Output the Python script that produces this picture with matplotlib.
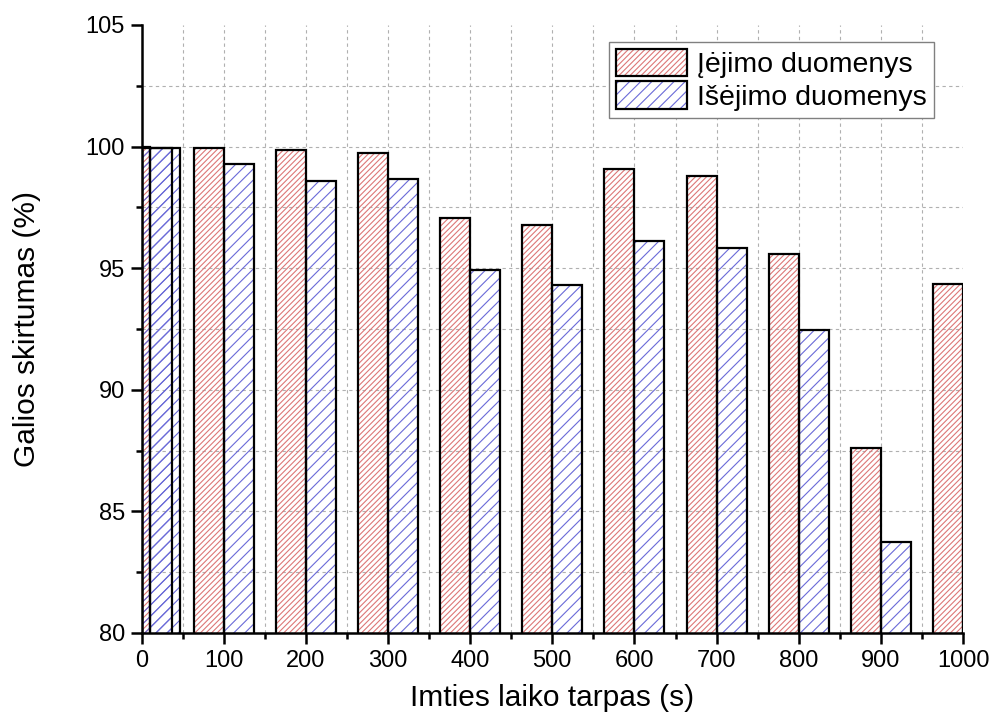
import matplotlib.pyplot as plt
from matplotlib.patches import Patch
from matplotlib.legend_handler import HandlerTuple
from matplotlib.ticker import MultipleLocator

plt.rcParams['font.family'] = ['Liberation Sans', 'DejaVu Sans']
plt.rcParams['hatch.linewidth'] = 0.8

# sample interval (s) and power difference (%)
interval = [1, 10, 100, 200, 300, 400, 500, 600, 700, 800, 900, 1000]
input_vals = [99.98, 99.98, 99.95, 99.84, 99.72, 97.06, 96.78, 99.08, 98.78, 95.59, 87.61, 94.37]
output_vals = [99.93, 99.93, 99.27, 98.60, 98.67, 94.91, 94.29, 96.13, 95.82, 92.47, 83.75, 92.0]

red = '#dd7777'
blue = '#6a6ad8'
w = 36.5

fig = plt.figure(figsize=(9.91, 7.24), dpi=100)
ax = fig.add_axes([0.1428, 0.1257, 0.829, 0.8398])

ax.set_xlim(0, 1000)
ax.set_ylim(80, 105)
ax.xaxis.set_major_locator(MultipleLocator(100))
ax.xaxis.set_minor_locator(MultipleLocator(50))
ax.yaxis.set_major_locator(MultipleLocator(5))
ax.yaxis.set_minor_locator(MultipleLocator(2.5))

# dashed grid on major + minor ticks, but not on the outer edges
grid_kw = dict(color='#b0b0b0', linestyle=(0, (3, 3)), linewidth=0.8, zorder=0)
xg = sorted(set(list(ax.get_xticks()) + list(ax.get_xticks(minor=True))))
yg = sorted(set(list(ax.get_yticks()) + list(ax.get_yticks(minor=True))))
for v in xg:
    if 0 < v < 1000:
        ax.axvline(v, **grid_kw)
for v in yg:
    if 80 < v < 105:
        ax.axhline(v, **grid_kw)

# hatch layer, then black outline on top
ax.bar(interval, input_vals, width=-w, align='edge', facecolor='none',
       edgecolor=red, hatch='//////', linewidth=0)
ax.bar(interval, output_vals, width=w, align='edge', facecolor='none',
       edgecolor=blue, hatch='///', linewidth=0)
ax.bar(interval, input_vals, width=-w, align='edge', fill=False, edgecolor='black', linewidth=1.6)
ax.bar(interval, output_vals, width=w, align='edge', fill=False, edgecolor='black', linewidth=1.6)

for s in ['top', 'right']:
    ax.spines[s].set_visible(False)
for s in ['left', 'bottom']:
    ax.spines[s].set_linewidth(1.8)

ax.tick_params(which='major', direction='out', length=8, width=1.8, labelsize=17, pad=4)
ax.tick_params(which='minor', direction='out', length=4.5, width=1.8)

ax.set_xlabel('Imties laiko tarpas (s)', fontsize=21.5, labelpad=9)
ax.set_ylabel('Galios skirtumas (%)', fontsize=21.5, labelpad=32)

h_in = (Patch(facecolor='none', edgecolor=red, hatch='//////', linewidth=0),
        Patch(fill=False, edgecolor='black', linewidth=1.6))
h_out = (Patch(facecolor='none', edgecolor=blue, hatch='///', linewidth=0),
         Patch(fill=False, edgecolor='black', linewidth=1.6))
leg = ax.legend([h_in, h_out], ['Įėjimo duomenys', 'Išėjimo duomenys'],
                handler_map={tuple: HandlerTuple(ndivide=1, pad=0)},
                loc='upper right', bbox_to_anchor=(0.965, 0.972), borderaxespad=0,
                fontsize=20.5, fancybox=False, framealpha=1, edgecolor='#808080',
                handlelength=2.5, handleheight=1.1, handletextpad=0.35,
                labelspacing=0.1, borderpad=0.25)
leg.get_frame().set_linewidth(1.0)

fig.savefig('out.png', dpi=100)
